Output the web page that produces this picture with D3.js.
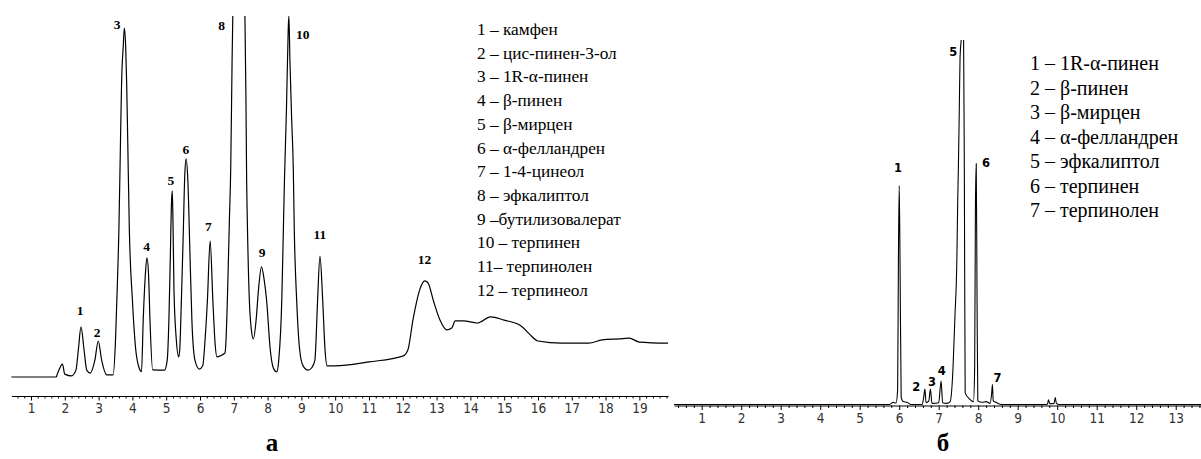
<!DOCTYPE html>
<html><head><meta charset="utf-8">
<script src="https://cdn.jsdelivr.net/npm/d3@7"></script>
<style>
body{margin:0;background:#fff;}
svg{display:block;}
.tick text{font-family:"Liberation Sans Narrow","DejaVu Sans Condensed","Liberation Sans",sans-serif;font-size:13.5px;fill:#333;}
</style></head>
<body><svg id="c" width="1201" height="459"></svg>
<script>
// ---------- Panel а: chromatogram (retention time, min ; detector signal, rel. units) ----------
const timeA = [0.42,1.75,1.76,1.84,1.93,2.0,2.2,2.33,2.4,2.48,2.57,2.65,2.75,2.89,2.99,3.09,3.24,3.43,3.5,3.54,3.6,3.65,3.68,3.73,3.76,3.8,3.83,3.86,3.91,4.0,4.1,4.2,4.27,4.32,4.38,4.43,4.48,4.52,4.6,4.95,5.03,5.08,5.12,5.16,5.18,5.2,5.23,5.3,5.37,5.4,5.45,5.5,5.55,5.59,5.64,5.7,5.76,5.85,5.98,6.08,6.15,6.22,6.3,6.38,6.45,6.5,6.65,6.74,6.77,6.81,6.87,6.91,6.95,6.97,7.15,7.33,7.36,7.38,7.4,7.46,7.52,7.58,7.66,7.73,7.82,7.9,7.97,8.08,8.17,8.27,8.33,8.42,8.46,8.5,8.56,8.61,8.63,8.66,8.71,8.76,8.79,8.86,8.95,9.05,9.2,9.3,9.4,9.42,9.48,9.55,9.63,9.7,9.76,10.0,11.0,12.0,12.15,12.3,12.5,12.65,12.75,12.9,13.1,13.3,13.45,13.55,13.8,14.2,14.6,15.0,15.5,15.75,16.0,16.7,17.5,17.9,18.4,18.7,19.0,19.85];
const signalA = [0,0,0.3,2.2,3.6,0.8,0.3,1.9,7.5,13.9,7.5,1.9,1.1,4.7,10.0,4.7,0.6,0.6,10.3,21.4,40.8,66.7,81.7,92.0,96.9,92.0,81.7,66.7,40.8,21.4,7.5,2.5,1.5,15.8,28.0,33.1,28.0,15.8,2.0,1.9,4.7,15.8,32.5,49.2,51.7,43.6,24.2,10.3,5.6,7.5,21.4,38.1,56.1,60.6,54.7,35.3,15.8,4.7,2.2,3.1,10.3,21.4,37.8,21.4,8.9,5.6,6.1,6.7,10.3,21.4,43.6,58.3,88.1,99.7,140,99.7,77.0,54.7,43.6,21.4,13.1,10.6,15.8,24.2,30.6,26.9,21.4,7.5,2.5,1.4,4.7,21.4,38.0,55.0,75.0,96.4,100.3,88.1,72.2,58.0,40.8,21.4,7.5,3.1,1.9,2.5,4.7,7.5,21.4,33.6,21.4,7.5,3.1,3.1,4.2,5.8,7.5,15.8,24.2,26.7,26.1,21.4,15.8,13.1,13.6,15.6,15.6,15.0,16.7,15.8,14.2,11.9,10.0,9.4,9.4,10.3,10.6,10.8,9.7,9.4];
const ticksA = [1,2,3,4,5,6,7,8,9,10,11,12,13,14,15,16,17,18,19];
const peakLabelsA = ["1","2","3","4","5","6","7","8","9","10","11","12"];
const peakLabelTimeA = [2.45,2.96,3.55,4.42,5.14,5.58,6.25,6.64,7.84,9.04,9.55,12.64];
const peakLabelValueA = [17.2,11.2,96.7,34.9,53.2,62.0,40.5,96.3,33.3,93.9,38.2,31.3];
const legendA = ["1 – камфен","2 – цис-пинен-3-ол","3 – 1R-α-пинен","4 – β-пинен","5 – β-мирцен","6 – α-фелландрен","7 – 1-4-цинеол","8 – эфкалиптол","9 –бутилизовалерат","10 – терпинен","11– терпинолен","12 – терпинеол"];

// ---------- Panel б ----------
const timeB = [0.3,5.75,5.85,5.92,5.96,5.98,6.0,6.02,6.05,6.1,6.2,6.3,6.58,6.62,6.65,6.68,6.75,6.79,6.83,7.0,7.06,7.1,7.2,7.29,7.36,7.41,7.46,7.48,7.5,7.52,7.54,7.57,7.6,7.63,7.65,7.67,7.78,7.88,7.91,7.93,7.95,7.97,7.99,8.1,8.2,8.3,8.34,8.36,8.38,8.45,8.6,9.75,9.78,9.81,9.92,9.95,9.98,10.05,13.65];
const signalB = [0,0,0.6,0.4,4,40,60,40,2,0.8,0.6,0,0,2,4.2,0.5,1,4.2,0.3,0.5,6.4,0.5,0.3,0.8,9.5,24,40,55,66,80,95,100,105,100,60,3.2,1.5,0.8,10,55,66,30,1,0.6,0.8,0.3,3,5.5,1,0.6,0,0,1.3,0.2,0.3,1.9,0.3,0,0];
const ticksB = [1,2,3,4,5,6,7,8,9,10,11,12,13];
const peakLabelsB = ["1","2","3","4","5","6","7"];
const peakLabelTimeB = [5.97,6.43,6.83,7.08,7.37,8.2,8.49];
const peakLabelValueB = [63.6,3.6,5.0,8.2,95.4,65.1,6.2];
const legendB = ["1 – 1R-α-пинен","2 – β-пинен","3 – β-мирцен","4 – α-фелландрен","5 – эфкалиптол","6 – терпинен","7 – терпинолен"];

const svg = d3.select("#c");
const defs = svg.append("defs");

function panel(o){
  const x = d3.scaleLinear().domain(o.xDomain).range(o.xRange);
  const y = d3.scaleLinear().domain([0,100]).range(o.yRange);
  defs.append("clipPath").attr("id",o.id).append("rect")
    .attr("x",o.xRange[0]-2).attr("y",o.clipTop).attr("width",o.xRange[1]-o.xRange[0]+4).attr("height",o.axisY-o.clipTop);
  const g = svg.append("g");
  // axis
  const minor = d3.range(Math.ceil(o.xDomain[0]*5)/5, o.xDomain[1]+1e-6, 0.2).filter(v=>Math.abs(v-Math.round(v))>1e-6);
  g.append("g").attr("transform",`translate(0,${o.axisY})`)
    .call(d3.axisBottom(x).tickValues(minor).tickSize(2.5).tickSizeOuter(0).tickFormat(""))
    .call(s=>s.select(".domain").attr("stroke","#000"))
    .selectAll("line").attr("stroke","#000");
  g.append("g").attr("transform",`translate(0,${o.axisY})`)
    .call(d3.axisBottom(x).tickValues(o.ticks).tickSize(4.5).tickSizeOuter(0).tickPadding(3).tickFormat(d3.format("d")))
    .call(s=>s.select(".domain").remove())
    .selectAll("line").attr("stroke","#000");
  // trace
  const line = d3.line().x((d,i)=>x(o.time[i])).y(d=>y(d)).curve(d3.curveMonotoneX);
  g.append("path").datum(o.signal).attr("clip-path",`url(#${o.id})`)
    .attr("fill","none").attr("stroke","#000").attr("stroke-width",o.sw).attr("stroke-linejoin","round")
    .attr("d",line);
  // peak labels
  g.selectAll("text.pk").data(o.labels).join("text").attr("class","pk")
    .attr("x",(d,i)=>x(o.labelTime[i])).attr("y",(d,i)=>y(o.labelValue[i]))
    .attr("text-anchor","middle")
    .style("font-family",o.labelFont).style("font-size",o.labelSize).style("font-weight",o.labelWeight).style("fill","#000")
    .text(d=>d);
  // legend
  g.selectAll("text.lg").data(o.legend).join("text").attr("class","lg")
    .attr("x",o.legX).attr("y",(d,i)=>o.legY0+i*o.legDy)
    .style("font-family","'Liberation Serif','Times New Roman',serif").style("font-size",o.legSize).style("fill","#000")
    .text(d=>d);
  // panel letter
  g.append("text").attr("x",o.letterX).attr("y",451).attr("text-anchor","middle")
    .style("font-family","'Liberation Serif','Times New Roman',serif").style("font-size","25px").style("font-weight","bold")
    .text(o.letter);
}

panel({id:"ca", xDomain:[0.42,19.85], xRange:[11.4,668.1], yRange:[377,17], axisY:396, clipTop:16,
  time:timeA, signal:signalA, ticks:ticksA, sw:1.2,
  labels:peakLabelsA, labelTime:peakLabelTimeA, labelValue:peakLabelValueA,
  labelFont:"'Liberation Serif','Times New Roman',serif", labelSize:"13.5px", labelWeight:"bold",
  legend:legendA, legX:477, legY0:35, legDy:23.7, legSize:"17.3px", letter:"а", letterX:272});

panel({id:"cb", xDomain:[0.3,13.65], xRange:[674.05,1201.4], yRange:[404.5,39.5], axisY:405.5, clipTop:40,
  time:timeB, signal:signalB, ticks:ticksB, sw:1.1,
  labels:peakLabelsB, labelTime:peakLabelTimeB, labelValue:peakLabelValueB,
  labelFont:"'DejaVu Sans',Verdana,sans-serif", labelSize:"11.5px", labelWeight:"bold",
  legend:legendB, legX:1030, legY0:70, legDy:24.5, legSize:"20px", letter:"б", letterX:943});
</script>
</body></html>
